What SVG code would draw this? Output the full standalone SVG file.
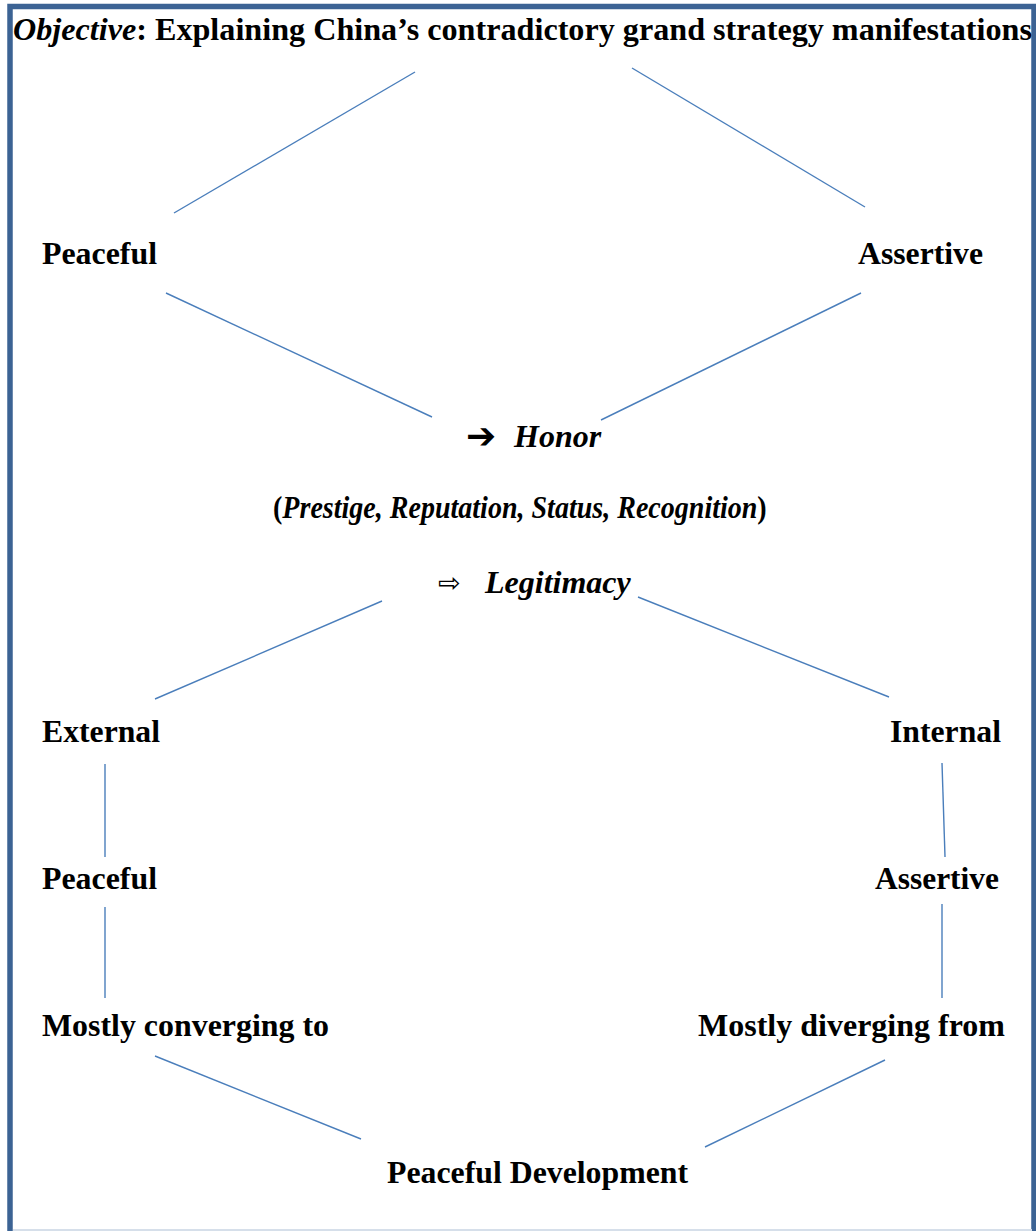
<svg xmlns="http://www.w3.org/2000/svg" width="1036" height="1231" viewBox="0 0 1036 1231">
<style>
text { font-family: "Liberation Serif", "Times New Roman", serif; font-weight: bold; font-size: 32px; fill: #000; }
.it { font-style: italic; }
.sym { font-family: "DejaVu Sans", sans-serif; font-weight: normal; }
.conn line { stroke: #4a7ebb; stroke-width: 1.4; fill: none; }
</style>
<rect x="0" y="0" width="1036" height="1231" fill="#ffffff"/>
<g id="frame">
<rect x="10" y="6.5" width="1024" height="1300" fill="none" stroke="#3c6394" stroke-width="5.5"/>
<rect x="13" y="1229" width="1019" height="2" fill="#d6dfea"/>
</g>
<g id="title">
<text x="13" y="40" font-size="30" textLength="1019" lengthAdjust="spacingAndGlyphs"><tspan class="it">Objective</tspan>: Explaining China’s contradictory grand strategy manifestations</text>
</g>
<g id="peaceful-top"><text x="42" y="264" textLength="115" lengthAdjust="spacingAndGlyphs">Peaceful</text></g>
<g id="assertive-top"><text x="858" y="264" textLength="125" lengthAdjust="spacingAndGlyphs">Assertive</text></g>
<g id="honor"><text x="466" y="448"><tspan class="sym" font-size="36" font-weight="bold">➔</tspan><tspan x="514" y="447" class="it">Honor</tspan></text></g>
<g id="prestige">
<text transform="translate(273,518) scale(0.876,1)" x="0" y="0">(<tspan class="it">Prestige, Reputation, Status, Recognition</tspan>)</text>
</g>
<g id="legitimacy"><text x="438" y="592"><tspan class="sym" font-size="27" font-weight="normal">⇨</tspan><tspan x="485" y="593" class="it">Legitimacy</tspan></text></g>
<g id="external"><text x="42" y="742" textLength="118" lengthAdjust="spacingAndGlyphs">External</text></g>
<g id="internal"><text x="890" y="742" textLength="111" lengthAdjust="spacingAndGlyphs">Internal</text></g>
<g id="peaceful-low"><text x="42" y="889" textLength="115" lengthAdjust="spacingAndGlyphs">Peaceful</text></g>
<g id="assertive-low"><text x="875" y="889" textLength="124" lengthAdjust="spacingAndGlyphs">Assertive</text></g>
<g id="converging"><text x="42" y="1036" textLength="287" lengthAdjust="spacingAndGlyphs">Mostly converging to</text></g>
<g id="diverging"><text x="698" y="1036" textLength="307" lengthAdjust="spacingAndGlyphs">Mostly diverging from</text></g>
<g id="peaceful-dev"><text x="387" y="1183" textLength="301" lengthAdjust="spacingAndGlyphs">Peaceful Development</text></g>
<g id="connectors" class="conn">
<line x1="415" y1="72" x2="174" y2="213"/>
<line x1="632" y1="68" x2="865" y2="207"/>
<line x1="166" y1="293" x2="432" y2="417"/>
<line x1="861" y1="293" x2="601" y2="420"/>
<line x1="382" y1="601" x2="155" y2="699"/>
<line x1="638" y1="597" x2="889" y2="697"/>
<line x1="105" y1="764" x2="105" y2="857"/>
<line x1="942" y1="763" x2="945" y2="857"/>
<line x1="105" y1="907" x2="105" y2="998"/>
<line x1="942" y1="904" x2="942" y2="998"/>
<line x1="155" y1="1056" x2="361" y2="1139"/>
<line x1="885" y1="1060" x2="705" y2="1147"/>
</g>
</svg>
